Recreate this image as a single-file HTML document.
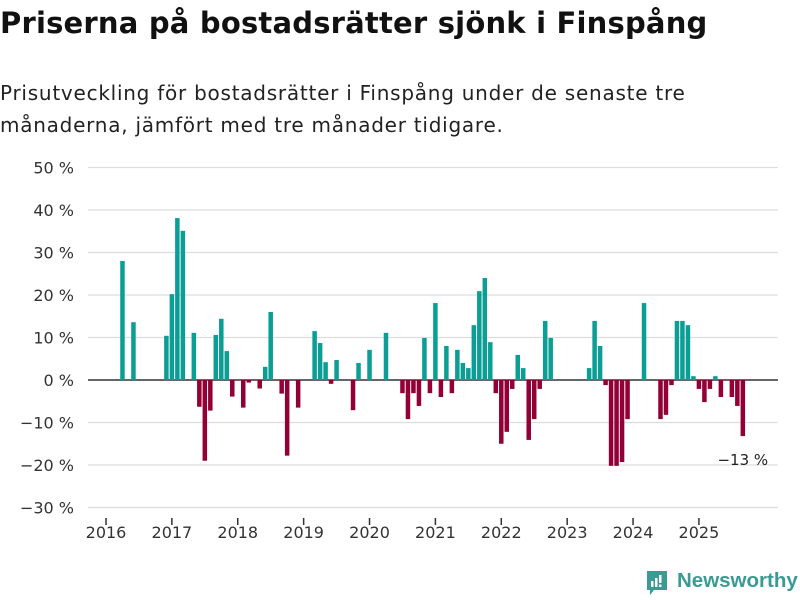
<!DOCTYPE html>
<html><head><meta charset="utf-8"><style>
body{margin:0;background:#fff;font-family:"DejaVu Sans","Liberation Sans",sans-serif;}
#wrap{position:relative;width:800px;height:600px;overflow:hidden;}
h1{position:absolute;left:0;top:6px;margin:0;font-size:29px;font-weight:bold;color:#111;letter-spacing:0.2px}
p.sub{position:absolute;left:0;top:77px;margin:0;font-size:20px;line-height:32px;color:#222;width:760px;letter-spacing:0.75px;word-spacing:0px}
</style></head><body>
<div id="wrap">
<h1>Priserna på bostadsrätter sjönk i Finspång</h1>
<p class="sub">Prisutveckling för bostadsrätter i Finspång under de senaste tre<br>månaderna, jämfört med tre månader tidigare.</p>
<svg id="chart" width="800" height="600" style="position:absolute;left:0;top:0"></svg>
<div style="position:absolute;left:645px;top:569px;width:24px;height:24px">
<svg width="24" height="28"><path d="M2 2h20v19h-13l-4 5v-5h-3z" fill="#3a9a94"/><rect x="6" y="12" width="2.5" height="6" fill="#fff"/><rect x="10" y="9" width="2.5" height="9" fill="#fff"/><rect x="14" y="6" width="2.5" height="8" fill="#fff"/><rect x="14" y="15.5" width="2.5" height="2.5" fill="#fff"/></svg></div>
<div style="position:absolute;left:677px;top:569px;font-size:20.5px;font-weight:bold;color:#3a9a94;font-family:'Liberation Sans',sans-serif">Newsworthy</div>
</div>
<script>
const yTicks=[50,40,30,20,10,0,-10,-20,-30];
const years=["2016","2017","2018","2019","2020","2021","2022","2023","2024","2025"];
// monthly values from Jan 2016 (null = no data)
const values=[null,null,null,28,null,13.6,null,null,null,null,null,10.4,
20.2,38.1,35.1,null,11.1,-6.3,-19,-7.2,10.6,14.4,6.8,-3.9,
null,-6.5,-0.6,null,-2,3.1,16,null,-3.2,-17.8,null,-6.5,
null,null,11.5,8.7,4.2,-0.9,4.7,null,null,-7.1,4,null,
7.1,null,null,11.1,null,null,-3.1,-9.2,-3.1,-6.1,9.9,-3.1,
18.1,-4,8,-3.1,7.1,4,2.8,12.9,20.9,24,8.9,-3.1,
-15,-12.2,-2.1,5.9,2.8,-14.1,-9.2,-2.1,13.9,9.9,null,null,
null,null,null,null,2.8,13.9,8,-1.2,-20.2,-20.2,-19.3,-9.2,
null,null,18.1,null,null,-9.2,-8.2,-1.2,13.9,13.9,12.9,0.9,
-2.1,-5.2,-2.1,0.9,-4,null,-4,-6.1,-13.2];
const lastLabel="−13 %";
const NS="http://www.w3.org/2000/svg";
const svg=document.getElementById('chart');
const y=v=>380-v*4.25;
const x=m=>106+m*5.49;
function mk(t,a){const e=document.createElementNS(NS,t);for(const k in a)e.setAttribute(k,a[k]);svg.appendChild(e);return e;}
yTicks.forEach(v=>{
 const l=mk('line',{x1:88,x2:778,y1:y(v),y2:y(v),stroke:v===0?'#333':'#ddd','stroke-width':v===0?1.6:1.2});
 
 
 const t=mk('text',{x:74,y:y(v)+6,'text-anchor':'end','font-size':16,fill:'#333'});
 t.textContent=(v<0?'−'+(-v):v)+' %';
 
 
});
years.forEach((yr,i)=>{
 const xx=x(i*12);
 const l=mk('line',{x1:xx,x2:xx,y1:518,y2:525,stroke:'#333','stroke-width':1.5});
 
 
 const t=mk('text',{x:xx,y:538,'text-anchor':'middle','font-size':16,fill:'#333'});
 t.textContent=yr;
 
 
});
values.forEach((v,m)=>{
 if(v===null)return;
 const r=mk('rect',{x:x(m)-2.25,width:4.5,y:Math.min(y(v),380),height:Math.abs(y(v)-380),fill:v>=0?'#0a9e94':'#930035'});
 
 
});
const lm=values.length-1;
const lt=mk('text',{x:x(lm),y:y(values[lm])+29,'text-anchor':'middle','font-size':15,fill:'#222'});
lt.textContent=lastLabel;


</script>
</body></html>
